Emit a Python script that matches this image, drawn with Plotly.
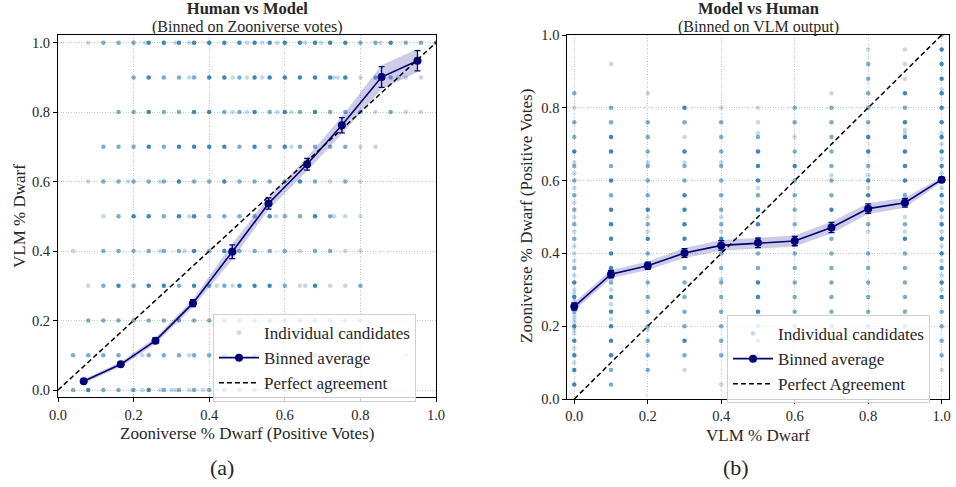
import plotly.graph_objects as go

FONT = "Liberation Serif"
C0 = "#1f77b4"
NAVY = "#00007f"

# ---------------- Left panel data (Human vs Model) ----------------
L_ROWS = [1.0, 0.9, 0.8, 0.7, 0.6, 0.5, 0.4, 0.3, 0.2, 0.1, 0.0]
L_DARK = [
    [0.24, 0.28, 0.32, 0.36, 0.40, 0.44, 0.48, 0.52, 0.56, 0.60, 0.64, 0.68, 0.72, 0.76, 0.88, 1.0],
    [0.24, 0.40, 0.44, 0.52, 0.56, 0.60, 0.64, 0.68, 0.72, 0.76],
    [0.24, 0.36, 0.40, 0.52, 0.60, 0.68],
    [0.24, 0.32, 0.36, 0.40, 0.44, 0.52, 0.60],
    [0.32, 0.44, 0.64],
    [0.20, 0.24, 0.32, 0.36, 0.56, 0.68],
    [0.36, 0.44],
    [0.16, 0.24, 0.28, 0.36, 0.48, 0.52, 0.56, 0.68],
    [],
    [],
    [0.08, 0.24],
]
L_MID = [
    [0.12, 0.16, 0.20, 0.80, 0.84, 0.92, 0.96],
    [0.20, 0.28, 0.32, 0.36, 0.48, 0.84, 0.88],
    [0.16, 0.20, 0.28, 0.32, 0.44, 0.48, 0.56, 0.64, 0.72, 0.76, 0.80, 0.88],
    [0.12, 0.16, 0.20, 0.28, 0.48, 0.56, 0.64, 0.68, 0.72, 0.76],
    [0.12, 0.16, 0.20, 0.24, 0.28, 0.36, 0.40, 0.48, 0.52, 0.56, 0.60, 0.68, 0.76],
    [0.16, 0.28, 0.40, 0.44, 0.48, 0.52, 0.60, 0.64, 0.72],
    [0.12, 0.16, 0.20, 0.24, 0.28, 0.32, 0.40, 0.48, 0.52, 0.56, 0.60, 0.68, 0.72],
    [0.12, 0.20, 0.32, 0.40, 0.44, 0.60, 0.80],
    [0.08, 0.12, 0.16, 0.20, 0.24, 0.28, 0.32, 0.36, 0.40, 0.44, 0.48, 0.52, 0.56, 0.60, 0.64, 0.68, 0.72, 0.76, 0.80],
    [0.04, 0.08, 0.12, 0.16, 0.24, 0.28, 0.32, 0.36, 0.40, 0.44, 0.48, 0.52, 0.56, 0.60, 0.64, 0.68, 0.72, 0.76],
    [0.04, 0.12, 0.16, 0.20, 0.28, 0.32, 0.36, 0.40, 0.44, 0.48, 0.52, 0.56, 0.60, 0.64, 0.68, 0.72, 0.76],
]
L_LIGHT = [
    [0.08, 0.23, 0.31, 0.347, 0.50, 0.54, 0.58, 0.654, 0.696, 0.853],
    [0.347, 0.462, 0.50, 0.54, 0.73, 0.74, 0.80, 0.90, 0.92, 0.96],
    [0.462, 0.50, 0.58, 0.618, 0.84, 0.92, 0.96],
    [0.618, 0.80, 0.84],
    [0.08, 0.185, 0.27, 0.72, 0.80],
    [0.12, 0.347, 0.577, 0.73, 0.76, 0.80],
    [0.04, 0.27, 0.335, 0.64, 0.76, 0.80],
    [0.08, 0.42, 0.462, 0.64, 0.654, 0.72, 0.76],
    [],
    [0.20, 0.223, 0.347, 0.92],
    [0.197, 0.223, 0.27, 0.30, 0.31, 0.347, 0.383, 0.42, 0.80, 0.84],
]
L_BIN_X = [0.068, 0.166, 0.258, 0.357, 0.461, 0.557, 0.659, 0.751, 0.856, 0.951]
L_BIN_Y = [0.025, 0.074, 0.142, 0.250, 0.398, 0.537, 0.650, 0.762, 0.901, 0.948]
L_BIN_E = [0.005, 0.006, 0.008, 0.010, 0.020, 0.016, 0.017, 0.022, 0.030, 0.029]

# ---------------- Right panel data (Model vs Human) ----------------
R_COLS = [0.0, 0.1, 0.2, 0.3, 0.4, 0.5, 0.6, 0.7, 0.8, 0.9, 1.0]
R_DARK = [
    [0.68, 0.32, 0.28, 0.20, 0.16, 0.12, 0.08, 0.04],
    [0.72, 0.68, 0.60, 0.52, 0.48, 0.44, 0.40, 0.36, 0.28, 0.24, 0.20, 0.16, 0.12],
    [0.52, 0.44],
    [0.80, 0.68, 0.56, 0.52, 0.48, 0.44, 0.40, 0.16],
    [0.44],
    [0.68, 0.64, 0.60, 0.52, 0.48, 0.32, 0.28, 0.24],
    [0.64],
    [0.52],
    [0.72, 0.68, 0.60, 0.56],
    [0.84, 0.76, 0.72, 0.68, 0.64, 0.60, 0.44],
    [0.96, 0.92, 0.88, 0.84, 0.80, 0.76, 0.72, 0.68, 0.64, 0.60, 0.56, 0.52, 0.48, 0.44, 0.40, 0.36, 0.32, 0.28],
]
R_MID = [
    [0.84, 0.76, 0.72, 0.64, 0.60, 0.56, 0.52, 0.48, 0.44, 0.36, 0.24],
    [0.80, 0.76, 0.64, 0.56, 0.32, 0.08, 0.04],
    [0.76, 0.72, 0.68, 0.64, 0.60, 0.56, 0.48, 0.40, 0.36, 0.32, 0.28, 0.24, 0.20, 0.16, 0.12, 0.08],
    [0.76, 0.64, 0.60, 0.36, 0.32, 0.28, 0.24, 0.20, 0.12],
    [0.76, 0.72, 0.68, 0.64, 0.60, 0.56, 0.52, 0.48, 0.40, 0.36, 0.32, 0.28, 0.24, 0.20, 0.16, 0.12],
    [0.72, 0.56, 0.44, 0.40, 0.36, 0.20, 0.16, 0.12],
    [0.80, 0.76, 0.68, 0.60, 0.56, 0.52, 0.48, 0.44, 0.40, 0.36, 0.32, 0.28, 0.24, 0.20, 0.16],
    [0.80, 0.76, 0.72, 0.68, 0.64, 0.60, 0.56, 0.48, 0.44, 0.40, 0.36, 0.32, 0.28, 0.24, 0.20, 0.16],
    [0.92, 0.88, 0.84, 0.80, 0.76, 0.64, 0.52, 0.48, 0.40, 0.36, 0.32, 0.28, 0.24, 0.20, 0.16],
    [0.80, 0.56, 0.48, 0.40, 0.36, 0.32, 0.28, 0.24, 0.20],
    [1.0, 0.24, 0.20, 0.16, 0.12],
]
R_LIGHT = [
    [0.80, 0.40, 0.65, 0.62, 0.58, 0.54, 0.50, 0.46, 0.42, 0.38, 0.34, 0.30, 0.29, 0.27, 0.26,
     0.25, 0.23, 0.22, 0.21, 0.19, 0.18, 0.14, 0.10],
    [0.92, 0.33, 0.30, 0.26, 0.22],
    [0.84, 0.65, 0.50, 0.46, 0.19],
    [0.72, 0.65, 0.08],
    [0.80, 0.65, 0.50, 0.46, 0.42, 0.33, 0.04],
    [0.80, 0.76, 0.73, 0.58],
    [0.72, 0.12],
    [0.84, 0.615],
    [0.96, 0.615, 0.58, 0.46],
    [0.96, 0.92, 0.88, 0.74, 0.73, 0.50, 0.46],
    [0.85, 0.73, 0.70, 0.66, 0.62, 0.58, 0.54, 0.50, 0.46, 0.42, 0.38, 0.34, 0.30, 0.08],
]
R_BIN_X = [0.0, 0.1, 0.2, 0.3, 0.4, 0.5, 0.6, 0.7, 0.8, 0.9, 1.0]
R_BIN_Y = [0.254, 0.343, 0.366, 0.401, 0.422, 0.429, 0.434, 0.471, 0.523, 0.539, 0.6025]
R_BIN_E = [0.010, 0.010, 0.010, 0.012, 0.013, 0.013, 0.013, 0.014, 0.013, 0.012, 0.006]

TIERS = [("light", 0.28), ("mid", 0.6), ("dark", 0.88)]

fig = go.Figure()


def rows_to_xy(keys, lists):
    xs, ys = [], []
    for k, lst in zip(keys, lists):
        for v in lst:
            xs.append(v)
            ys.append(k)
    return xs, ys


def add_panel(xa, ya, xs_ys_tiers, bx, by, be, legend, diag_name):
    for i, ((name, op), (xs, ys)) in enumerate(zip(TIERS, xs_ys_tiers)):
        fig.add_trace(go.Scatter(
            x=xs, y=ys, mode="markers", xaxis=xa, yaxis=ya,
            marker=dict(color=C0, size=4.5, opacity=op, line=dict(width=0)),
            name="Individual candidates", showlegend=(i == 0), legend=legend,
            hoverinfo="skip"))
    up = [y + e * 1.15 for y, e in zip(by, be)]
    lo = [y - e * 1.15 for y, e in zip(by, be)]
    fig.add_trace(go.Scatter(
        x=bx + bx[::-1], y=up + lo[::-1], fill="toself", mode="lines",
        line=dict(width=0), fillcolor="rgba(0,0,128,0.2)", xaxis=xa, yaxis=ya,
        showlegend=False, hoverinfo="skip"))
    fig.add_trace(go.Scatter(
        x=bx, y=by, mode="lines+markers", xaxis=xa, yaxis=ya,
        line=dict(color=NAVY, width=1.6), marker=dict(color=NAVY, size=8),
        error_y=dict(type="data", array=be, visible=True, color=NAVY, thickness=1.3, width=3),
        name="Binned average", legend=legend))
    fig.add_trace(go.Scatter(
        x=[0, 1], y=[0, 1], mode="lines", xaxis=xa, yaxis=ya,
        line=dict(color="black", width=1.5, dash="5px,3px"),
        name=diag_name, legend=legend))


tiersL = [rows_to_xy(L_ROWS, L_LIGHT), rows_to_xy(L_ROWS, L_MID), rows_to_xy(L_ROWS, L_DARK)]
tiersR_raw = [rows_to_xy(R_COLS, R_LIGHT), rows_to_xy(R_COLS, R_MID), rows_to_xy(R_COLS, R_DARK)]
tiersR = [(ys, xs) for xs, ys in tiersR_raw]

add_panel("x", "y", tiersL, L_BIN_X, L_BIN_Y, L_BIN_E, "legend", "Perfect agreement")
add_panel("x2", "y2", tiersR, R_BIN_X, R_BIN_Y, R_BIN_E, "legend2", "Perfect Agreement")

W, H = 956, 487


def px(x):
    return min(1.0, max(0.0, x / W))


def py(y):
    return min(1.0, max(0.0, 1 - y / H))


tickfont = dict(family=FONT, size=14.5, color="#262626")
axis_common = dict(
    showline=True, linecolor="black", linewidth=1, mirror=True, automargin=False,
    ticks="outside", ticklen=4, tickcolor="black", tickwidth=1,
    showgrid=True, gridcolor="#c8c8c8", gridwidth=0.8, griddash="1px,1.6px",
    zeroline=False, tickfont=tickfont, tickformat=".1f", dtick=0.2, tick0=0,
)

legend_common = dict(
    xanchor="left", yanchor="top",
    bgcolor="rgba(255,255,255,0.8)", bordercolor="#d0d0d0", borderwidth=1,
    font=dict(family=FONT, size=17, color="#262626"), tracegroupgap=0, itemwidth=40,
)

fig.update_layout(
    width=W, height=H, margin=dict(l=0, r=0, t=0, b=0, autoexpand=False),
    paper_bgcolor="white", plot_bgcolor="white",
    font=dict(family=FONT, color="#262626"),
    xaxis=dict(domain=[px(58), px(436)], range=[0, 1], anchor="y", **axis_common),
    yaxis=dict(domain=[py(397.3), py(35)], range=[-0.021, 1.022], anchor="x", **axis_common),
    xaxis2=dict(domain=[px(567.3), px(949)], range=[-0.019, 1.02], anchor="y2", **axis_common),
    yaxis2=dict(domain=[py(399), py(35)], range=[0, 1], anchor="x2", **axis_common),
    legend=dict(x=px(213), y=py(314), **legend_common),
    legend2=dict(x=px(727), y=py(315), **legend_common),
    showlegend=True,
)

ann = []


def add_text(x, y, text, size, angle=0):
    ann.append(dict(x=px(x), y=py(y), xref="paper", yref="paper", text=text, showarrow=False,
                    xanchor="center", yanchor="middle", textangle=angle,
                    font=dict(family=FONT, size=size, color="#262626")))


def two_line(title, sub):
    return (f"<span style='font-size:16.5px'><b>{title}</b></span><br>"
            f"<span style='font-size:16px'>{sub}</span>")


add_text(247, 18, two_line("Human vs Model", "(Binned on Zooniverse votes)"), 13.5)
add_text(758, 18, two_line("Model vs Human", "(Binned on VLM output)"), 13.5)
add_text(247, 433, "Zooniverse % Dwarf (Positive Votes)", 17)
add_text(758, 435, "VLM % Dwarf", 17)
add_text(19, 216, "VLM % Dwarf", 17, angle=-90)
add_text(526, 216, "Zooniverse % Dwarf (Positive Votes)", 17, angle=-90)
add_text(222, 467, "(a)", 22)
add_text(736, 467, "(b)", 22)
fig.update_layout(annotations=ann)

fig.write_html("out.html", config={"displayModeBar": False},
               post_script="document.body.style.margin='0';document.body.style.overflow='hidden';")
